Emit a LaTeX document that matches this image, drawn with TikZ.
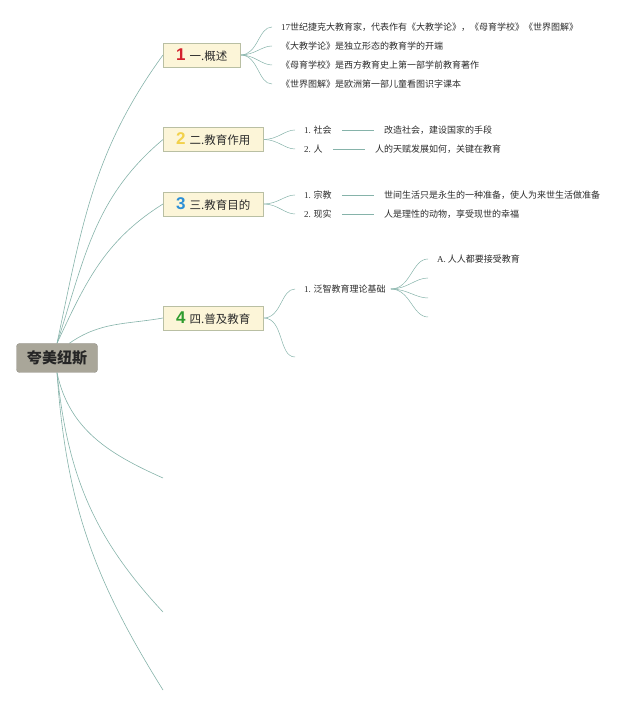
\documentclass[tikz,border=0pt]{standalone}
\usepackage{fontspec}
\setmainfont{Noto Sans CJK SC}
\newfontfamily\numfont{Liberation Sans}
\newfontfamily\latfont{Liberation Serif}
\usepackage{tikz}
\usetikzlibrary{positioning,backgrounds}
\definecolor{branchcol}{HTML}{86B3AA}
\definecolor{topicfill}{HTML}{FCF5D8}
\definecolor{topicline}{HTML}{B9BFA3}
\definecolor{rootfill}{HTML}{A9A699}
\definecolor{rootline}{HTML}{95938A}
\definecolor{textcol}{HTML}{2B2B2B}
\definecolor{numred}{HTML}{D3212D}
\definecolor{numyellow}{HTML}{F2D14B}
\definecolor{numblue}{HTML}{2D8FD6}
\definecolor{numgreen}{HTML}{2E9B2E}
\newcommand{\tnum}[2]{{\numfont\bfseries\fontsize{17}{17}\selectfont
  \color{#1}#2}\hspace{4pt}}
\newcommand{\lat}[1]{{\latfont #1}}
\tikzset{
  rootbox/.style={rectangle,rounded corners=3pt,draw=rootline,fill=rootfill,
    font=\fontsize{15}{18}\selectfont\bfseries,text=black!85,
    minimum width=81pt,minimum height=29pt},
  topic/.style={rectangle,draw=topicline,fill=topicfill,anchor=west,
    font=\fontsize{11.5}{13}\selectfont,text=textcol,minimum height=24pt,
    inner xsep=13pt},
  branch/.style={draw=branchcol,line width=.6pt}}

\begin{document}
\begin{tikzpicture}[x=1pt,y=1pt,
  item/.style={anchor=west,font=\fontsize{9}{11}\selectfont,text=textcol,
    inner xsep=5pt,inner ysep=2pt},
  twig/.style={branch,line width=.5pt,shorten >=4pt},
  joiner/.style={branch,line width=.5pt,shorten <=5pt,shorten >=5pt}]
  \useasboundingbox (0,0) rectangle (640,706);

  \node[rootbox] (kmns) at (57,348) {夸美纽斯};

  \node[topic] (ta) at (163,651) {\tnum{numred}{1}一.概述};
  \node[topic] (tb) at (163,566.5) {\tnum{numyellow}{2}二.教育作用};
  \node[topic] (tc) at (163,502) {\tnum{numblue}{3}三.教育目的};
  \node[topic] (td) at (163,388) {\tnum{numgreen}{4}四.普及教育};

  \node[item] (ta1) at (276,679)
    {\lat{17}世纪捷克大教育家，代表作有《大教学论》，《母育学校》《世界图解》};
  \node[item] (ta2) at (276,660) {《大教学论》是独立形态的教育学的开端};
  \node[item] (ta3) at (276,641) {《母育学校》是西方教育史上第一部学前教育著作};
  \node[item] (ta4) at (276,622) {《世界图解》是欧洲第一部儿童看图识字课本};

  \node[item] (tb1) at (299,576) {\lat{1.} 社会};
  \node[item,right=42pt of tb1] (tb1d) {改造社会，建设国家的手段};
  \node[item] (tb2) at (299,557) {\lat{2.} 人};
  \node[item,right=42pt of tb2] (tb2d) {人的天赋发展如何，关键在教育};

  \node[item] (tc1) at (299,511) {\lat{1.} 宗教};
  \node[item,right=42pt of tc1] (tc1d)
    {世间生活只是永生的一种准备，使人为来世生活做准备};
  \node[item] (tc2) at (299,492) {\lat{2.} 现实};
  \node[item,right=42pt of tc2] (tc2d) {人是理性的动物，享受现世的幸福};

  \node[item] (td1) at (299,417) {\lat{1.} 泛智教育理论基础};
  \coordinate (td2) at (299,349);
  \node[item] (td1a) at (432,447) {\lat{A.} 人人都要接受教育};
  \coordinate (td1b) at (432,428);
  \coordinate (td1c) at (432,408);
  \coordinate (td1d) at (432,389);

  \coordinate (kmx) at (163,228);
  \coordinate (kmy) at (163,94);
  \coordinate (kmz) at (163,16);

  \begin{scope}[on background layer]
  \draw[branch] (kmns.north) to[out=78,in=234] (ta.west);
  \draw[branch] (kmns.north) to[out=72,in=220] (tb.west);
  \draw[branch] (kmns.north) to[out=65,in=212] (tc.west);
  \draw[branch] (kmns.50) to[out=35,in=190] (td.west);
  \draw[branch] (kmns.south) to[out=-78,in=156] (kmx);
  \draw[branch] (kmns.south) to[out=-84,in=133] (kmy);
  \draw[branch] (kmns.south) to[out=-86,in=122] (kmz);

  \foreach \leaf in {ta1,ta2,ta3,ta4}
    \draw[twig] (ta.east) to[out=0,in=180] (\leaf.west);
  \foreach \leaf in {tb1,tb2}
    \draw[twig] (tb.east) to[out=0,in=180] (\leaf.west);
  \foreach \leaf in {tc1,tc2}
    \draw[twig] (tc.east) to[out=0,in=180] (\leaf.west);
  \draw[twig] (td.east) to[out=0,in=180] (td1.west);
  \draw[twig] (td.east) to[out=0,in=180] (td2);
  \draw[twig] (td1.east) to[out=0,in=180] (td1a.west);
  \foreach \leaf in {td1b,td1c,td1d}
    \draw[twig] (td1.east) to[out=0,in=180] (\leaf);

  \draw[joiner] (tb1) -- (tb1d);
  \draw[joiner] (tb2) -- (tb2d);
  \draw[joiner] (tc1) -- (tc1d);
  \draw[joiner] (tc2) -- (tc2d);
  \end{scope}
\end{tikzpicture}
\end{document}
